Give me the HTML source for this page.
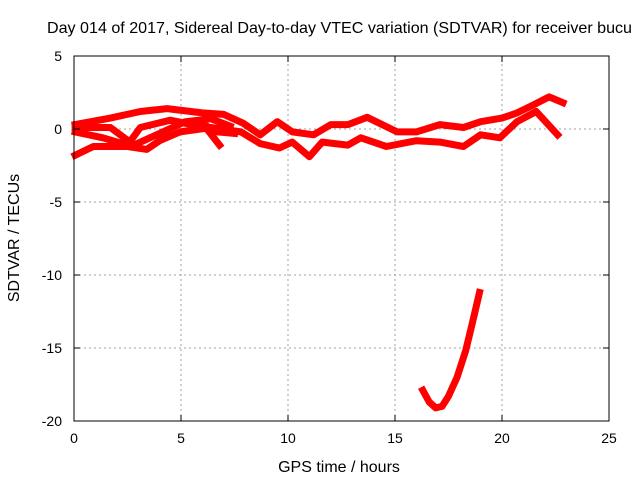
<!DOCTYPE html>
<html><head><meta charset="utf-8">
<style>
body{margin:0;background:#fff;}
svg text{font-family:"Liberation Sans",sans-serif;font-size:14px;fill:#000;}
svg text.big{font-size:16px;}
</style></head>
<body>
<svg id="chart" width="640" height="480">
<text x="47" y="33" class="big" textLength="585" lengthAdjust="spacingAndGlyphs">Day 014 of 2017, Sidereal Day-to-day VTEC variation (SDTVAR) for receiver bucu</text>
<g id="grid"></g>
<g id="series"></g>
<rect x="74" y="56" width="535" height="365" fill="none" stroke="#000" stroke-width="1"/>
<g id="axes"></g>
<text x="339" y="472" class="big" text-anchor="middle">GPS time / hours</text>
<text transform="translate(19,238) rotate(-90)" class="big" text-anchor="middle">SDTVAR / TECUs</text>
</svg>
<script>
const xTicks=[0,5,10,15,20,25];
const yTicks=[5,0,-5,-10,-15,-20];
const trackAHours=[0.05,1.7,3.1,4.35,6.0,7.0,7.9,8.7,9.5,10.2,11.2,12.0,12.8,13.7,15.1,16.0,17.1,18.2,19.0,20.0,20.7,21.4,22.2,22.85];
const trackAValues=[0.3,0.75,1.2,1.4,1.1,1.0,0.4,-0.4,0.5,-0.2,-0.4,0.3,0.3,0.8,-0.2,-0.2,0.3,0.1,0.5,0.75,1.1,1.6,2.2,1.8];
const trackBHours=[0.05,0.9,2.5,3.4,4.0,4.95,6.4,7.8,8.7,9.6,10.2,11.0,11.6,12.8,13.4,14.6,16.0,17.1,18.2,19.0,19.9,20.7,21.6,22.6];
const trackBValues=[-1.8,-1.2,-1.2,-1.4,-0.8,-0.2,0.1,-0.2,-1.0,-1.3,-0.9,-1.9,-0.9,-1.1,-0.6,-1.2,-0.8,-0.9,-1.2,-0.4,-0.6,0.5,1.2,-0.4];
const trackCHours=[0.05,1.35,2.5,3.1,4.5,5.5,6.2,6.7,7.5];
const trackCValues=[-0.2,-0.6,-1.1,0.1,0.6,0.3,0.2,-0.2,-0.3];
const trackDHours=[0.05,1.7,2.8,4.0,5.2,6.4,7.3];
const trackDValues=[0.1,0.1,-1.1,-0.3,0.5,0.7,0.2];
const spikeHours=[6.0,6.8];
const spikeValues=[0.4,-1.1];
const dipHours=[16.3,16.6,16.9,17.2,17.5,17.9,18.3,18.6,18.95];
const dipValues=[-17.9,-18.7,-19.1,-19.0,-18.3,-17.0,-15.2,-13.4,-11.2];

const X0=74,X1=609,Y0=421,Y1=56;
const xs=h=>X0+(h-0)/(25-0)*(X1-X0);
const ys=v=>Y0-(v+20)/(25)*(Y0-Y1);
const NS='http://www.w3.org/2000/svg';
const grid=document.getElementById('grid'),axes=document.getElementById('axes'),ser=document.getElementById('series');
function mk(tag,attrs,parent){const e=document.createElementNS(NS,tag);for(const k in attrs)e.setAttribute(k,attrs[k]);parent.appendChild(e);return e;}
xTicks.forEach(t=>{
  const x=xs(t);
  if(t>0&&t<25){const g=mk('line',{x1:x,x2:x,y1:Y0,y2:Y1,stroke:'#a0a0a0','stroke-dasharray':'2,3'},grid);
  
  }
  mk('line',{x1:x,x2:x,y1:Y0,y2:Y0-6,stroke:'#000'},axes);
  mk('line',{x1:x,x2:x,y1:Y1,y2:Y1+6,stroke:'#000'},axes);
  const l=mk('text',{x:x,y:Y0+22,'text-anchor':'middle'},axes);l.textContent=t;
  
  
});
yTicks.forEach(t=>{
  const y=ys(t);
  if(t<5&&t>-20){const g=mk('line',{x1:X0,x2:X1,y1:y,y2:y,stroke:'#a0a0a0','stroke-dasharray':'2,3'},grid);
  
  }
  mk('line',{x1:X0,x2:X0+6,y1:y,y2:y,stroke:'#000'},axes);
  mk('line',{x1:X1,x2:X1-6,y1:y,y2:y,stroke:'#000'},axes);
  const l=mk('text',{x:X0-12,y:y+5,'text-anchor':'end'},axes);l.textContent=t;
  
  
});
const tracks=[[trackAHours,trackAValues,'track-a'],[trackBHours,trackBValues,'track-b'],[trackCHours,trackCValues,'track-c'],[trackDHours,trackDValues,'track-d'],[spikeHours,spikeValues,'track-spike'],[dipHours,dipValues,'track-dip']];
tracks.forEach(([hs,vs,name])=>{
  const pts=hs.map((h,i)=>xs(h).toFixed(1)+','+ys(vs[i]).toFixed(1)).join(' ');
  const p=mk('polyline',{points:pts,fill:'none',stroke:'#ff0000','stroke-width':7,'stroke-linejoin':'round','stroke-linecap':'square'},ser);
  
  
});
</script>
</body></html>
